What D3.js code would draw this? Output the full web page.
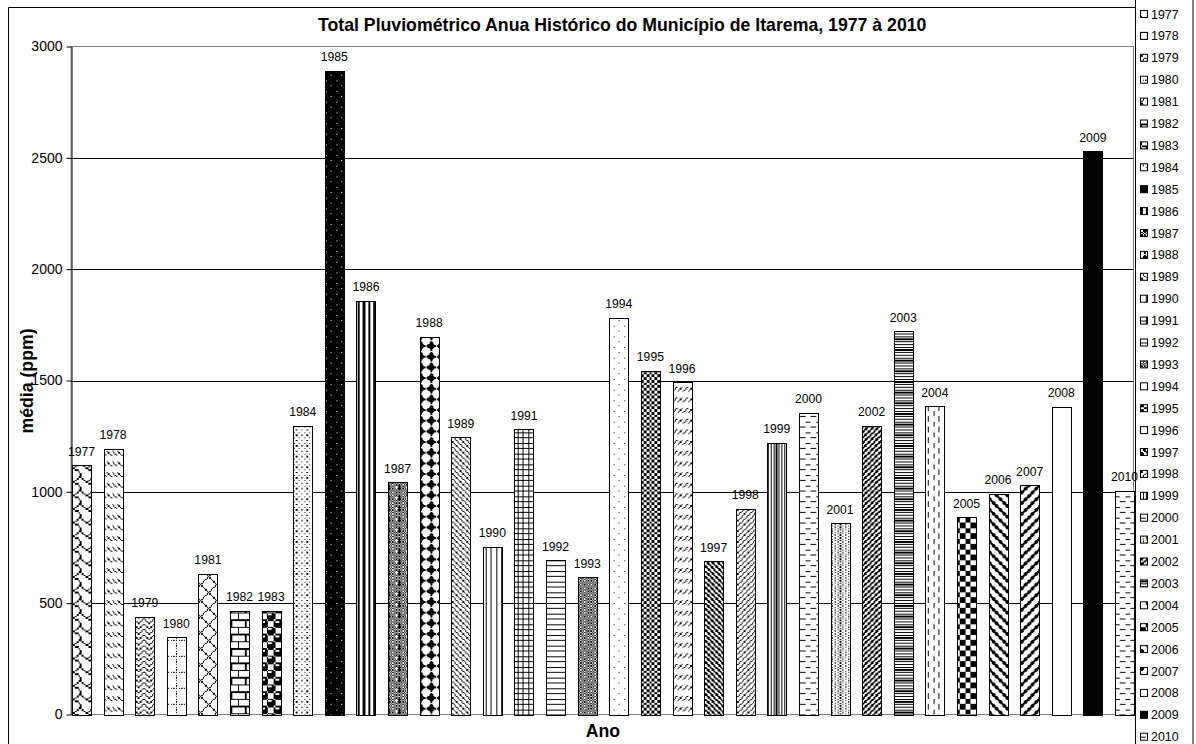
<!DOCTYPE html>
<html>
<head>
<meta charset="utf-8">
<script src="https://cdn.jsdelivr.net/npm/d3@7"></script>
<style>
  html, body { margin: 0; padding: 0; background: #fff; }
  svg { display: block; font-family: "Liberation Sans", Arial, sans-serif; }
</style>
</head>
<body>
<svg id="chart" width="1196" height="744"></svg>
<script>
// Annual rainfall totals, Itarema, 1977-2010
const years = [1977,1978,1979,1980,1981,1982,1983,1984,1985,1986,1987,1988,1989,1990,1991,1992,1993,
               1994,1995,1996,1997,1998,1999,2000,2001,2002,2003,2004,2005,2006,2007,2008,2009,2010];
const values = [1120,1194,439,347,631,465,465,1296,2890,1858,1043,1697,1246,754,1281,692,616,
                1782,1544,1492,689,923,1221,1355,860,1296,1722,1385,885,992,1029,1383,2529,1004];
const yTicks = [0,500,1000,1500,2000,2500,3000];
const titleText = "Total Pluviométrico Anua Histórico do Município de Itarema, 1977 à 2010";
const yTitle = "média (ppm)";
const xTitle = "Ano";

// Fill pattern used by each year's bar ('1' = ink)
const fills = ["shingle","dashedDown","zigzag","dottedGrid","outlinedDiamond","hBrick","sphere","p20",
               "p5inv","darkVertical","plaid","solidDiamond","lightDown","lightVertical","smallGrid",
               "lightHorizontal","p50","p5","smallChecker","dashedUp","darkDown","lightUp","narrowVertical",
               "dashedHorizontal","p25","darkUp","narrowHorizontal","dashedVertical","largeChecker",
               "wideDown","wideUp","white","black","dashedHorizontal"];

const rep = (a, n) => Array.from({length: n}, () => a).flat();
// 12x12 bitmaps built from a rule
const grid12 = rule => d3.range(12).map(r => d3.range(12).map(c => rule(r, c) ? "1" : "0").join(""));

const bitmaps = {
  shingle: ["00000011","10000100","01001000","00110000","00001100","00000010","00000001","00000001"],
  dashedDown: ["00000000","00000000","10001000","01000100","00100010","00010001","00000000","00000000"],
  zigzag: rep(["00011000","00100100","01000010","10000001"], 2),
  dottedGrid: grid12((r, c) => (r === 0 && c % 2 === 0) || (c === 0 && r % 2 === 0)),
  outlinedDiamond: grid12((r, c) => c === r || c === (12 - r) % 12),
  hBrick: ["11111111","10000000","10000000","10000000","11111111","00001000","00001000","00001000"],
  sphere: ["01110111","10011000","11111000","11111000","01110111","10001001","10001111","10001111"],
  p20: ["10001000","00000000","00100010","00000000","10001000","00000000","00100010","00000000"],
  p5: ["10000000","00000000","00000000","00000000","00001000","00000000","00000000","00000000"],
  p5inv: ["01111111","11111111","11111111","11111111","11110111","11111111","11111111","11111111"],
  darkVertical: rep(["11001100"], 8),
  plaid: ["10101010","01010101","10101010","01010101","10111010","00010101","10111010","01010101"],
  solidDiamond: ["00010000","00111000","01111100","11111110","01111100","00111000","00010000","00000000"],
  lightDown: rep(["10001000","01000100","00100010","00010001"], 2),
  lightUp: rep(["00010001","00100010","01000100","10001000"], 2),
  lightVertical: rep(["10001000"], 8),
  smallGrid: rep(["11111111","10001000","10001000","10001000"], 2),
  lightHorizontal: rep(["11111111","00000000","00000000","00000000"], 2),
  p50: rep(["10101010","01010101"], 4),
  p25: rep(["10001000","00100010"], 4),
  smallChecker: rep(["10011001","01100110","01100110","10011001"], 2),
  dashedUp: ["00000000","00000000","00010001","00100010","01000100","10001000","00000000","00000000"],
  darkDown: rep(["11001100","01100110","00110011","10011001"], 2),
  darkUp: rep(["00110011","01100110","11001100","10011001"], 2),
  narrowVertical: rep(["10101010"], 8),
  narrowHorizontal: rep(["11111111","00000000"], 4),
  dashedHorizontal: ["11110000","00000000","00000000","00000000","00001111","00000000","00000000","00000000"],
  dashedVertical: ["10000000","10000000","10000000","10000000","00001000","00001000","00001000","00001000"],
  largeChecker: rep(["11110000"], 4).concat(rep(["00001111"], 4)),
  wideDown: ["11000001","11100000","01110000","00111000","00011100","00001110","00000111","10000011"],
  wideUp: ["10000011","00000111","00001110","00011100","00111000","01110000","11100000","11000001"]
};
// coarser patterns are drawn with a larger cell
const cellSize = {hBrick: 1.8, sphere: 1.8, shingle: 1.7};

const W = 1196, H = 744;
const plot = {left: 71, right: 1133.5, top: 46.5, bottom: 714.5};
const PX = 1.333; // default size of one pattern cell

const svg = d3.select("#chart");
svg.append("rect").attr("width", W).attr("height", H).attr("fill", "#fff");

// pattern definitions
const defs = svg.append("defs");
Object.entries(bitmaps).forEach(([name, rows]) => {
  const n = rows.length, m = rows[0].length;
  const p = defs.append("pattern")
    .attr("id", "pat-" + name)
    .attr("patternUnits", "userSpaceOnUse")
    .attr("width", m).attr("height", n)
    .attr("patternTransform", `scale(${cellSize[name] || PX})`);
  p.append("rect").attr("width", m).attr("height", n).attr("fill", "#fff");
  let d = "";
  rows.forEach((row, r) => {
    for (let c = 0; c < m; c++) if (row[c] === "1") d += `M${c},${r}h1v1h-1z`;
  });
  p.append("path").attr("d", d).attr("fill", "#000").attr("shape-rendering", "crispEdges");
});
const fillOf = name => name === "white" ? "#fff" : name === "black" ? "#000" : `url(#pat-${name})`;

// scales
const x = d3.scaleBand().domain(years).range([72, 1134]).paddingInner(0.399).paddingOuter(0);
const y = d3.scaleLinear().domain([0, 3000]).range([plot.bottom, plot.top]);

// chart frame
svg.append("path").attr("d", `M8.5,${H} V7.5 H1135`).attr("fill", "none").attr("stroke", "#000");

// plot area border
svg.append("rect")
  .attr("x", plot.left).attr("y", plot.top)
  .attr("width", plot.right - plot.left).attr("height", plot.bottom - plot.top)
  .attr("fill", "none").attr("stroke", "#808080");

// gridlines
svg.append("g").selectAll("line")
  .data(yTicks.filter(t => t > 0 && t < 3000))
  .join("line")
  .attr("x1", plot.left).attr("x2", plot.right)
  .attr("y1", d => Math.round(y(d)) + 0.5).attr("y2", d => Math.round(y(d)) + 0.5)
  .attr("stroke", "#000");

// y axis
const yAxis = d3.axisLeft(y).tickValues(yTicks).tickFormat(d3.format("d"))
  .tickSize(5).tickPadding(4).tickSizeOuter(0);
const gy = svg.append("g").attr("transform", `translate(${plot.left + 0.5},0)`).call(yAxis);
gy.select(".domain").attr("stroke", "#000");
gy.selectAll(".tick line").attr("stroke", "#000");
gy.selectAll(".tick text").attr("font-size", 14).attr("fill", "#000")
  .attr("font-family", "Liberation Sans, Arial, sans-serif");

// bars
svg.append("g").selectAll("rect")
  .data(years.map((yr, i) => ({yr, v: values[i], f: fills[i]})))
  .join("rect")
  .attr("x", d => Math.round(x(d.yr)) + 0.5)
  .attr("y", d => Math.round(y(d.v)) + 0.5)
  .attr("width", Math.round(x.bandwidth()))
  .attr("height", d => Math.round(y(0)) - Math.round(y(d.v)))
  .attr("fill", d => fillOf(d.f))
  .attr("stroke", "#000").attr("stroke-width", 1);

// titles
svg.append("text").attr("x", 318).attr("y", 31).attr("font-size", 17.7)
  .attr("font-weight", "bold").text(titleText);
svg.append("text").attr("transform", "translate(33,381) rotate(-90)")
  .attr("text-anchor", "middle").attr("font-size", 17.7).attr("font-weight", "bold").text(yTitle);
svg.append("text").attr("x", 603).attr("y", 737).attr("text-anchor", "middle")
  .attr("font-size", 17.7).attr("font-weight", "bold").text(xTitle);

// legend
svg.append("rect").attr("x", 1135.5).attr("y", -2).attr("width", 57.5).attr("height", H + 4)
  .attr("fill", "#fff").attr("stroke", "#000");
const lg = svg.append("g").selectAll("g")
  .data(years.map((yr, i) => ({yr, f: fills[i]})))
  .join("g")
  .attr("transform", (d, i) => `translate(1140,${14 + i * 21.9})`);
lg.append("rect").attr("x", 0.5).attr("y", -3.5).attr("width", 7).attr("height", 7)
  .attr("fill", d => fillOf(d.f)).attr("stroke", "#000");
lg.append("text").attr("x", 11).attr("y", 4.5).attr("font-size", 12.4).text(d => d.yr);

// value labels (year above each bar), drawn last so none is hidden
svg.append("g").selectAll("text")
  .data(years.map((yr, i) => ({yr, v: values[i]})))
  .join("text")
  .attr("x", d => x(d.yr) + x.bandwidth() / 2)
  .attr("y", d => y(d.v) - 9.5)
  .attr("text-anchor", "middle")
  .attr("font-size", 12.2)
  .text(d => d.yr);
</script>
</body>
</html>
